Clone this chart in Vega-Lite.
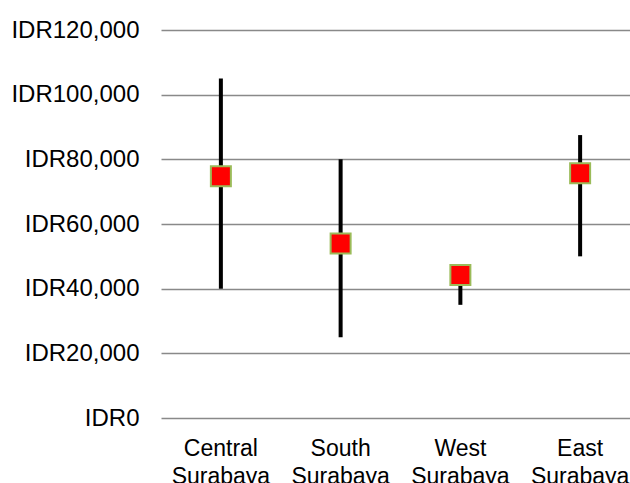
{
  "$schema": "https://vega.github.io/schema/vega-lite/v6.json",
  "width": 479,
  "height": 388,
  "padding": {"top": 18, "left": 10, "right": 0, "bottom": 0},
  "autosize": {"type": "pad"},
  "background": "white",
  "config": {"view": {"stroke": null}, "font": "Liberation Sans"},
  "data": {
    "values": [
      {"region": "Central Surabaya", "low": 40000, "high": 105000, "mean": 74800},
      {"region": "South Surabaya", "low": 25000, "high": 80000, "mean": 54000},
      {"region": "West Surabaya", "low": 35000, "high": 46000, "mean": 44200},
      {"region": "East Surabaya", "low": 50000, "high": 87500, "mean": 75700}
    ]
  },
  "encoding": {
    "x": {
      "field": "region",
      "type": "nominal",
      "sort": null,
      "title": null,
      "scale": {"paddingInner": 0, "paddingOuter": 0},
      "axis": {
        "labelExpr": "split(datum.label, ' ')",
        "labelAngle": 0,
        "labelFontSize": 23,
        "labelColor": "#000000",
        "labelLineHeight": 28,
        "labelPadding": 19,
        "ticks": false,
        "domain": false,
        "grid": false
      }
    }
  },
  "layer": [
    {
      "mark": {"type": "rule", "strokeWidth": 4, "color": "#000000"},
      "encoding": {
        "y": {
          "field": "low",
          "type": "quantitative",
          "title": null,
          "scale": {"domain": [0, 120000], "nice": false},
          "axis": {
            "values": [0, 20000, 40000, 60000, 80000, 100000, 120000],
            "labelExpr": "'IDR' + format(datum.value, ',')",
            "labelFontSize": 24,
            "labelColor": "#000000",
            "labelPadding": 22,
            "ticks": false,
            "domain": false,
            "grid": true,
            "gridColor": "#898989",
            "gridWidth": 1.5
          }
        },
        "y2": {"field": "high"}
      }
    },
    {
      "mark": {"type": "point", "shape": "square", "filled": true, "fill": "#FF0000", "stroke": "#9BBB59", "strokeWidth": 2, "size": 400, "opacity": 1},
      "encoding": {
        "y": {"field": "mean", "type": "quantitative"}
      }
    }
  ]
}
